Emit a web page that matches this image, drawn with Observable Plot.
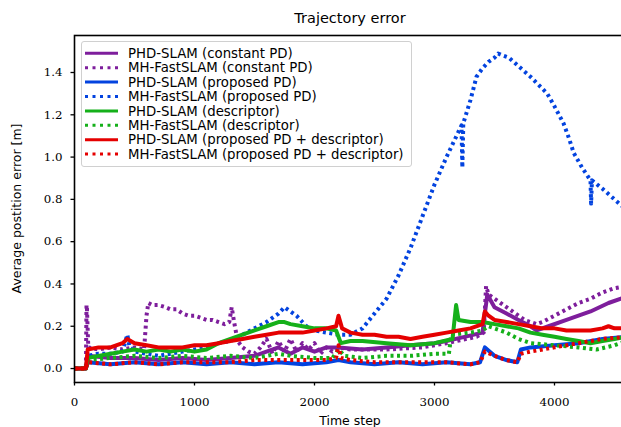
<!DOCTYPE html>
<html>
<head>
<meta charset="utf-8">
<script src="https://cdn.jsdelivr.net/npm/d3@7"></script>
<script src="https://cdn.jsdelivr.net/npm/@observablehq/plot@0.6"></script>
<style>
  html, body { margin: 0; padding: 0; background: #fff; overflow: hidden; }
  #chart { width: 621px; height: 427px; overflow: hidden; }
  #chart svg { max-width: none !important; height: 427px !important; display: block; }
</style>
</head>
<body>
<div id="chart"></div>
<script>
// ---------- data ----------
const seriesNames = [
  "PHD-SLAM (constant PD)",
  "MH-FastSLAM (constant PD)",
  "PHD-SLAM (proposed PD)",
  "MH-FastSLAM (proposed PD)",
  "PHD-SLAM (descriptor)",
  "MH-FastSLAM (descriptor)",
  "PHD-SLAM (proposed PD + descriptor)",
  "MH-FastSLAM (proposed PD + descriptor)"
];
const seriesColors = ["#7e1e9c", "#7e1e9c", "#0343df", "#0343df", "#15b01a", "#15b01a", "#e50000", "#e50000"];
const seriesDotted = [false, true, false, true, false, true, false, true];

const xTicks = [0, 1000, 2000, 3000, 4000];
const yTicks = [0, 0.2, 0.4, 0.6, 0.8, 1.0, 1.2, 1.4];

// PHD-SLAM (constant PD)
const tPhdConst = [0, 95, 110, 300, 500, 700, 900, 1100, 1300, 1500, 1600, 1700, 1800, 1900, 2000, 2100, 2200, 2400, 2600, 2800, 3000, 3100, 3250, 3400, 3440, 3500, 3600, 3700, 3800, 3850, 3950, 4100, 4300, 4450, 4600];
const vPhdConst = [0, 0, 0.06, 0.05, 0.05, 0.04, 0.05, 0.04, 0.05, 0.06, 0.08, 0.1, 0.07, 0.1, 0.08, 0.1, 0.1, 0.09, 0.1, 0.11, 0.12, 0.13, 0.15, 0.17, 0.35, 0.29, 0.26, 0.23, 0.2, 0.18, 0.2, 0.23, 0.27, 0.31, 0.34];
// MH-FastSLAM (constant PD)
const tMhConst = [0, 95, 100, 104, 115, 200, 300, 400, 500, 580, 600, 615, 650, 700, 760, 800, 850, 900, 950, 1000, 1050, 1100, 1150, 1200, 1250, 1290, 1310, 1330, 1360, 1400, 1450, 1500, 1550, 1600, 1650, 1700, 1750, 1800, 1850, 1900, 1950, 2000, 2050, 2100, 2150, 2200, 2300, 2600, 2900, 3100, 3350, 3410, 3430, 3450, 3500, 3550, 3600, 3650, 3700, 3750, 3800, 3850, 3900, 4000, 4100, 4200, 4300, 4400, 4500, 4600];
const vMhConst = [0, 0, 0.3, 0.28, 0.1, 0.09, 0.1, 0.09, 0.1, 0.09, 0.25, 0.31, 0.3, 0.3, 0.29, 0.28, 0.28, 0.26, 0.25, 0.25, 0.24, 0.23, 0.23, 0.22, 0.21, 0.22, 0.29, 0.22, 0.13, 0.1, 0.08, 0.07, 0.1, 0.14, 0.07, 0.13, 0.08, 0.14, 0.08, 0.12, 0.09, 0.12, 0.07, 0.1, 0.08, 0.1, 0.09, 0.09, 0.1, 0.12, 0.15, 0.17, 0.39, 0.35, 0.33, 0.31, 0.29, 0.27, 0.25, 0.23, 0.22, 0.21, 0.22, 0.25, 0.28, 0.31, 0.33, 0.36, 0.38, 0.39];
// PHD-SLAM (proposed PD)
const tPhdProp = [0, 95, 110, 300, 500, 700, 900, 1100, 1300, 1500, 1700, 1900, 2100, 2200, 2300, 2500, 2700, 2900, 3100, 3300, 3380, 3420, 3500, 3600, 3690, 3720, 3800, 4000, 4200, 4400, 4600];
const vPhdProp = [0, 0, 0.03, 0.02, 0.03, 0.02, 0.03, 0.02, 0.03, 0.02, 0.03, 0.02, 0.03, 0.04, 0.03, 0.02, 0.03, 0.02, 0.03, 0.02, 0.03, 0.1, 0.06, 0.04, 0.03, 0.09, 0.1, 0.11, 0.12, 0.14, 0.15];
// MH-FastSLAM (proposed PD)
const tMhProp = [0, 95, 110, 200, 300, 400, 440, 460, 500, 600, 700, 800, 900, 1000, 1100, 1200, 1300, 1400, 1500, 1600, 1700, 1750, 1800, 1850, 1900, 1950, 2000, 2100, 2200, 2300, 2400, 2500, 2600, 2700, 2800, 2900, 3000, 3100, 3200, 3225, 3232, 3240, 3300, 3350, 3400, 3450, 3500, 3530, 3570, 3620, 3660, 3720, 3800, 3870, 3940, 4000, 4075, 4120, 4160, 4230, 4300, 4305, 4312, 4400, 4500, 4600];
const vMhProp = [0, 0, 0.06, 0.07, 0.07, 0.08, 0.16, 0.1, 0.08, 0.07, 0.06, 0.07, 0.08, 0.09, 0.1, 0.12, 0.13, 0.16, 0.19, 0.22, 0.26, 0.29, 0.27, 0.25, 0.22, 0.19, 0.18, 0.17, 0.16, 0.16, 0.19, 0.26, 0.33, 0.44, 0.57, 0.72, 0.87, 1.0, 1.12, 1.15, 0.95, 1.16, 1.27, 1.38, 1.42, 1.45, 1.47, 1.49, 1.48, 1.47, 1.45, 1.42, 1.38, 1.34, 1.3, 1.24, 1.16, 1.09, 1.02, 0.95, 0.89, 0.78, 0.89, 0.85, 0.8, 0.75];
// PHD-SLAM (descriptor)
const tPhdDesc = [0, 95, 110, 200, 300, 400, 500, 600, 700, 800, 900, 1000, 1100, 1200, 1300, 1400, 1500, 1600, 1700, 1750, 1800, 1900, 2000, 2100, 2180, 2220, 2300, 2400, 2600, 2800, 3000, 3150, 3180, 3200, 3300, 3400, 3500, 3600, 3700, 3800, 3900, 4000, 4100, 4200, 4300, 4400, 4500, 4600];
const vPhdDesc = [0, 0, 0.05, 0.06, 0.07, 0.08, 0.09, 0.08, 0.09, 0.08, 0.09, 0.08, 0.09, 0.12, 0.14, 0.16, 0.18, 0.2, 0.22, 0.22, 0.21, 0.2, 0.19, 0.19, 0.18, 0.12, 0.13, 0.13, 0.12, 0.11, 0.12, 0.14, 0.3, 0.23, 0.22, 0.22, 0.21, 0.2, 0.19, 0.17, 0.16, 0.15, 0.14, 0.13, 0.12, 0.13, 0.14, 0.15];
// MH-FastSLAM (descriptor)
const tMhDesc = [0, 95, 110, 300, 500, 700, 900, 1100, 1300, 1500, 1700, 1800, 2000, 2150, 2200, 2250, 2400, 2600, 2800, 3000, 3120, 3140, 3300, 3400, 3450, 3600, 3700, 3800, 4000, 4200, 4350, 4500, 4600];
const vMhDesc = [0, 0, 0.04, 0.05, 0.06, 0.05, 0.06, 0.05, 0.06, 0.05, 0.07, 0.06, 0.05, 0.05, 0.09, 0.06, 0.05, 0.06, 0.06, 0.07, 0.07, 0.16, 0.17, 0.18, 0.2, 0.17, 0.14, 0.12, 0.11, 0.1, 0.09, 0.11, 0.13];
// PHD-SLAM (proposed PD + descriptor)
const tPhdBoth = [0, 95, 110, 200, 300, 400, 440, 500, 600, 700, 800, 900, 1000, 1100, 1200, 1300, 1400, 1500, 1600, 1700, 1800, 1900, 2000, 2100, 2180, 2200, 2230, 2300, 2400, 2500, 2600, 2700, 2800, 2900, 3000, 3100, 3200, 3300, 3400, 3420, 3450, 3500, 3600, 3700, 3800, 3900, 4000, 4100, 4200, 4300, 4400, 4450, 4500, 4600];
const vPhdBoth = [0, 0, 0.09, 0.1, 0.1, 0.12, 0.14, 0.12, 0.11, 0.1, 0.1, 0.1, 0.11, 0.11, 0.12, 0.13, 0.14, 0.15, 0.16, 0.17, 0.17, 0.17, 0.18, 0.19, 0.2, 0.25, 0.19, 0.17, 0.16, 0.16, 0.15, 0.15, 0.14, 0.15, 0.16, 0.17, 0.18, 0.19, 0.21, 0.27, 0.25, 0.23, 0.22, 0.21, 0.2, 0.19, 0.19, 0.18, 0.18, 0.18, 0.19, 0.2, 0.19, 0.19];
// MH-FastSLAM (proposed PD + descriptor)
const tMhBoth = [0, 95, 110, 300, 500, 700, 900, 1100, 1300, 1500, 1700, 1900, 2100, 2180, 2200, 2220, 2300, 2500, 2700, 2900, 3100, 3300, 3380, 3420, 3500, 3600, 3690, 3720, 3800, 4000, 4200, 4400, 4600];
const vMhBoth = [0, 0, 0.03, 0.02, 0.03, 0.02, 0.03, 0.03, 0.03, 0.04, 0.04, 0.04, 0.04, 0.05, 0.11, 0.05, 0.04, 0.03, 0.03, 0.03, 0.03, 0.02, 0.03, 0.08, 0.06, 0.04, 0.03, 0.07, 0.08, 0.1, 0.12, 0.14, 0.15];

const seriesT = [tPhdConst, tMhConst, tPhdProp, tMhProp, tPhdDesc, tMhDesc, tPhdBoth, tMhBoth];
const seriesV = [vPhdConst, vMhConst, vPhdProp, vMhProp, vPhdDesc, vMhDesc, vPhdBoth, vMhBoth];

// ---------- chart ----------
const W = 632, H = 427;
const mL = 74, mR = 6, mT = 35, mB = 45;
const serif = "'DejaVu Serif', 'Liberation Serif', serif";
const sans = "'DejaVu Sans', 'Noto Sans', sans-serif";
const tickFont = 11.8;

const lineMarks = seriesNames.map((name, i) => {
  const rows = seriesT[i].map((t, j) => ({t, v: seriesV[i][j], name}));
  return Plot.line(rows, {
    x: "t", y: "v",
    stroke: seriesColors[i],
    strokeWidth: 4,
    strokeDasharray: seriesDotted[i] ? "3,3.5" : null,
    strokeLinejoin: "round",
    strokeLinecap: "butt"
  });
});

const chart = Plot.plot({
  width: W, height: H,
  marginLeft: mL, marginRight: mR, marginTop: mT, marginBottom: mB,
  style: {fontFamily: serif, fontSize: tickFont + "px", background: "white", color: "black", overflow: "visible"},
  x: {domain: [0, 4600], label: null},
  y: {domain: [-0.066, 1.575], label: null},
  marks: [
    ...lineMarks,
    Plot.frame({stroke: "black", strokeWidth: 1.6}),
    Plot.axisX({ticks: xTicks, tickFormat: d => String(d), tickSize: 3.5, tickPadding: 12, strokeWidth: 1.3, label: null, fontSize: tickFont}),
    Plot.axisY({ticks: yTicks, tickFormat: d3.format(".1f"), tickSize: 3.5, tickPadding: 8.5, strokeWidth: 1.3, label: null, fontSize: tickFont})
  ]
});
chart.style.maxWidth = "none";
chart.style.width = W + "px";
chart.style.height = H + "px";
document.getElementById("chart").appendChild(chart);

const svg = d3.select(chart);
svg.selectAll("g").filter(function () {
  return (this.getAttribute("aria-label") || "").includes("tick label");
}).attr("font-size", tickFont).attr("font-family", serif)
  .selectAll("text").style("font-size", tickFont + "px").style("font-family", serif);

const cx = (mL + (W - mR)) / 2;
svg.append("text").attr("x", cx).attr("y", 23).attr("text-anchor", "middle")
  .style("font-family", sans).style("font-size", "14.5px").attr("fill", "black").text("Trajectory error");
svg.append("text").attr("x", cx).attr("y", 424.5).attr("text-anchor", "middle")
  .style("font-family", sans).style("font-size", "12.5px").attr("fill", "black").text("Time step");
svg.append("text").attr("transform", `translate(21, ${(mT + H - mB) / 2}) rotate(-90)`).attr("text-anchor", "middle")
  .style("font-family", sans).style("font-size", "12.5px").attr("fill", "black").text("Average postition error [m]");

// legend
const lg = svg.append("g");
lg.append("rect").attr("x", 81.5).attr("y", 41.5).attr("width", 330).attr("height", 125).attr("rx", 2.5)
  .attr("fill", "white").attr("fill-opacity", 0.85).attr("stroke", "#d0d0d0").attr("stroke-width", 1);
seriesNames.forEach((name, i) => {
  const y = 53.3 + i * 14.4;
  lg.append("line").attr("x1", 85).attr("x2", 118).attr("y1", y).attr("y2", y)
    .attr("stroke", seriesColors[i]).attr("stroke-width", 3)
    .attr("stroke-dasharray", seriesDotted[i] ? "3,4.5" : null);
  lg.append("text").attr("x", 128).attr("y", y).attr("dy", "0.36em").attr("text-anchor", "start")
    .style("font-family", sans).style("font-size", "13.3px").attr("fill", "black").text(name);
});
</script>
</body>
</html>
